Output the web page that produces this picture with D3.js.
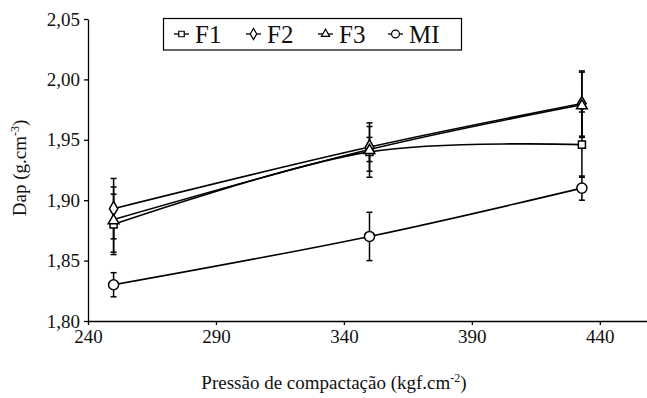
<!DOCTYPE html>
<html>
<head>
<meta charset="utf-8">
<script src="https://cdn.jsdelivr.net/npm/d3@7"></script>
<style>
  html, body { margin: 0; padding: 0; background: #fff; }
  svg { display: block; font-family: "Liberation Serif", "Times New Roman", serif; }
</style>
</head>
<body>
<svg id="chart" width="647" height="398"></svg>
<script>
// Compaction pressure (kgf.cm-2) and soil bulk density Dap (g.cm-3)
const pressure = [250, 350, 433];
const seriesNames = ["F1", "F2", "F3", "MI"];
const dapF1 = [1.880, 1.940, 1.946];
const dapF2 = [1.893, 1.944, 1.980];
const dapF3 = [1.884, 1.942, 1.979];
const dapMI = [1.830, 1.870, 1.910];
const errF1 = [0.025, 0.021, 0.027];
const errF2 = [0.025, 0.020, 0.027];
const errF3 = [0.027, 0.010, 0.027];
const errMI = [0.010, 0.020, 0.010];
const xTicks = [240, 290, 340, 390, 440];
const yTicks = [1.80, 1.85, 1.90, 1.95, 2.00, 2.05];

const series = [
  { name: "F1", values: dapF1, errors: errF1, symbol: d3.symbolSquare, size: 50 },
  { name: "F2", values: dapF2, errors: errF2, symbol: d3.symbolDiamond, size: 60 },
  { name: "F3", values: dapF3, errors: errF3, symbol: d3.symbolTriangle, size: 50 },
  { name: "MI", values: dapMI, errors: errMI, symbol: d3.symbolCircle, size: 80 }
];

const svg = d3.select("#chart");
const x = d3.scaleLinear().domain([240, 460]).range([88, 651]);
const y = d3.scaleLinear().domain([1.80, 2.05]).range([321, 19]);
const comma = v => d3.format(".2f")(v).replace(".", ",");

// axes
const xAxis = svg.append("g")
  .attr("transform", `translate(0,${y(1.80)})`)
  .call(d3.axisBottom(x).tickValues(xTicks).tickSize(4).tickSizeOuter(0).tickPadding(5));
const yAxis = svg.append("g")
  .attr("transform", `translate(${x(240)},0)`)
  .call(d3.axisLeft(y).tickValues(yTicks).tickFormat(comma).tickSize(4).tickSizeOuter(0).tickPadding(4));
[xAxis, yAxis].forEach(g => {
  g.selectAll("path, line").attr("stroke", "#000").attr("stroke-width", 1.3);
  g.selectAll("text").attr("fill", "#111").style("font-size", "19px")
    .style("font-family", "'Liberation Serif', serif");
});

// axis titles
const yTitle = svg.append("text")
  .attr("transform", `translate(26,168) rotate(-90)`)
  .attr("text-anchor", "middle")
  .style("font-size", "19px").attr("fill", "#111");
yTitle.append("tspan").text("Dap (g.cm");
yTitle.append("tspan").attr("dy", -7).style("font-size", "12px").text("-3");
yTitle.append("tspan").attr("dy", 7).text(")");

const xTitle = svg.append("text")
  .attr("x", 334).attr("y", 389)
  .attr("text-anchor", "middle")
  .style("font-size", "19px").attr("fill", "#111");
xTitle.append("tspan").text("Pressão de compactação (kgf.cm");
xTitle.append("tspan").attr("dy", -7).style("font-size", "12px").text("-2");
xTitle.append("tspan").attr("dy", 7).text(")");

// error bars
const capW = 3;
series.forEach(s => {
  const g = svg.append("g").attr("stroke", "#000").attr("stroke-width", 1.5);
  pressure.forEach((p, i) => {
    const cx = x(p), top = y(s.values[i] + s.errors[i]), bot = y(s.values[i] - s.errors[i]);
    g.append("line").attr("x1", cx).attr("x2", cx).attr("y1", top).attr("y2", bot);
    g.append("line").attr("x1", cx - capW).attr("x2", cx + capW).attr("y1", top).attr("y2", top);
    g.append("line").attr("x1", cx - capW).attr("x2", cx + capW).attr("y1", bot).attr("y2", bot);
  });
});

// smoothed series lines
const line = d3.line()
  .x((d, i) => x(pressure[i]))
  .y(d => y(d))
  .curve(d3.curveCatmullRom.alpha(0.5));
series.forEach(s => {
  svg.append("path").attr("d", line(s.values))
    .attr("fill", "none").attr("stroke", "#000").attr("stroke-width", 1.6);
});

// markers
series.forEach(s => {
  const sym = d3.symbol().type(s.symbol).size(s.size);
  s.values.forEach((v, i) => {
    svg.append("path").attr("d", sym())
      .attr("transform", `translate(${x(pressure[i])},${y(v) + (s.symbol === d3.symbolTriangle ? 1 : 0)})`)
      .attr("fill", "#fff").attr("stroke", "#000").attr("stroke-width", 1.5);
  });
});

// legend
const legend = svg.append("g");
legend.append("rect").attr("x", 163.5).attr("y", 18.5).attr("width", 298).attr("height", 31.5)
  .attr("fill", "#fff").attr("stroke", "#000").attr("stroke-width", 1.2);
const legendX = [174, 246, 318, 388];
series.forEach((s, i) => {
  const lx = legendX[i], ly = 34;
  legend.append("line").attr("x1", lx).attr("x2", lx + 15).attr("y1", ly).attr("y2", ly)
    .attr("stroke", "#000").attr("stroke-width", 1.3);
  legend.append("path").attr("d", d3.symbol().type(s.symbol).size(s.size * 0.6)())
    .attr("transform", `translate(${lx + 7.5},${ly})`)
    .attr("fill", "#fff").attr("stroke", "#000").attr("stroke-width", 1.2);
  legend.append("text").attr("x", lx + 21).attr("y", ly + 8.5)
    .style("font-size", "25px").attr("fill", "#111").text(seriesNames[i]);
});
</script>
</body>
</html>
